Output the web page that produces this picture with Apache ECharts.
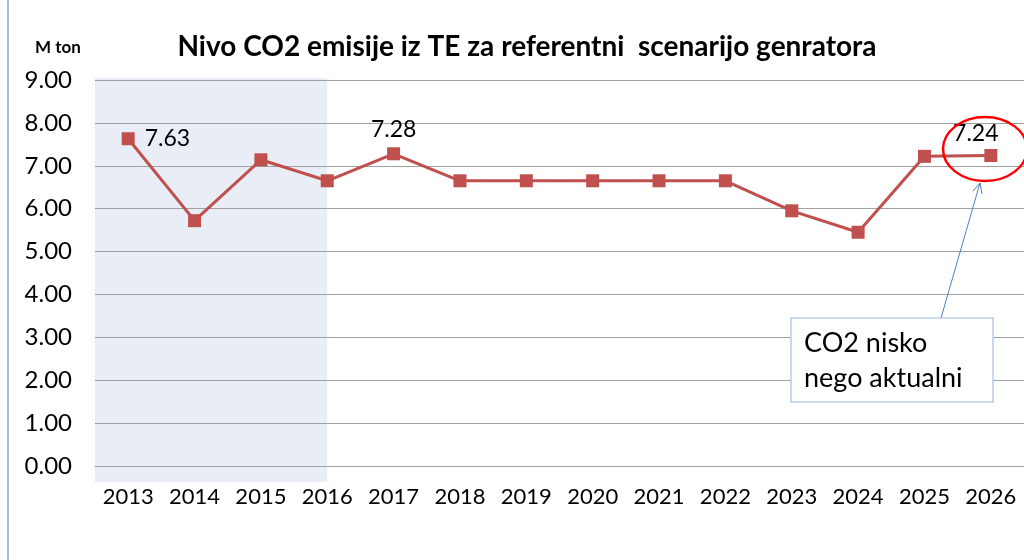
<!DOCTYPE html>
<html>
<head>
<meta charset="utf-8">
<script src="https://cdn.jsdelivr.net/npm/echarts@6/dist/echarts.min.js"></script>
<style>
html, body { margin: 0; padding: 0; background: #fff; }
#chart { width: 1024px; height: 560px; }
</style>
</head>
<body>
<div id="chart"></div>
<script>
const years = ['2013', '2014', '2015', '2016', '2017', '2018', '2019', '2020', '2021', '2022', '2023', '2024', '2025', '2026'];
const emissions = [7.63, 5.72, 7.14, 6.65, 7.28, 6.65, 6.65, 6.65, 6.65, 6.65, 5.95, 5.45, 7.22, 7.24];
const labelledYears = ['2013', '2017', '2026'];
const historyEnd = '2016';

const FONT = 'Lato, "Open Sans", sans-serif';

const seriesData = emissions.map((v, i) => {
    const item = { value: v };
    if (labelledYears.indexOf(years[i]) >= 0) {
        item.label = {
            show: true,
            position: i === 0 ? 'right' : 'top',
            distance: i === 0 ? 10 : 6,
            offset: i === emissions.length - 1 ? [-15, 2] : [0, 0],
            formatter: p => p.value.toFixed(2),
            fontFamily: FONT,
            fontSize: 23,
            color: '#000'
        };
    }
    return item;
});

const chart = echarts.init(document.getElementById('chart'));

chart.setOption({
    animation: false,
    grid: { left: 95, right: -5, top: 80, bottom: 94 },
    title: {
        text: 'Nivo CO2 emisije iz TE za referentni  scenarijo genratora',
        left: 522,
        top: 28,
        textAlign: 'center',
        textStyle: { fontFamily: FONT, fontSize: 28, fontWeight: 'bold', color: '#000' }
    },
    xAxis: {
        type: 'category',
        data: years,
        boundaryGap: true,
        axisTick: { show: false },
        axisLine: { lineStyle: { color: '#a0a0a0', width: 1 } },
        axisLabel: { interval: 0, hideOverlap: false, fontFamily: FONT, fontSize: 22, color: '#000', margin: 20 }
    },
    yAxis: {
        type: 'value',
        min: 0,
        max: 9,
        interval: 1,
        axisLine: { show: false },
        axisTick: { show: false },
        splitLine: { lineStyle: { color: '#a0a0a0', width: 1 } },
        axisLabel: {
            fontFamily: FONT, fontSize: 24, color: '#000', margin: 23,
            formatter: v => v.toFixed(2)
        }
    },
    series: [{
        type: 'line',
        data: seriesData,
        z: 5,
        symbol: 'rect',
        symbolSize: 13,
        itemStyle: { color: '#c0504d' },
        lineStyle: { color: '#c0504d', width: 3 }
    }]
});

// shaded history band and annotations
const firstX = chart.convertToPixel({ gridIndex: 0 }, [years[0], 0])[0];
const secondX = chart.convertToPixel({ gridIndex: 0 }, [years[1], 0])[0];
const bandX = firstX - (secondX - firstX) / 2;
const endX = chart.convertToPixel({ gridIndex: 0 }, [historyEnd, 0])[0];

chart.setOption({
    graphic: [
        {
            type: 'rect', z: -10, silent: true,
            shape: { x: bandX, y: 78, width: endX - bandX, height: 404 },
            style: { fill: '#e9eef6' }
        },
        {
            type: 'line', silent: true,
            shape: { x1: 8, y1: 0, x2: 8, y2: 560 },
            style: { stroke: '#a9c0e3', lineWidth: 2 }
        },
        {
            type: 'text', left: 35, top: 39,
            style: { text: 'M ton', font: 'bold 17px ' + FONT, fill: '#000' }
        },
        {
            type: 'ellipse', silent: true, z: 10,
            shape: { cx: 985, cy: 149, rx: 42, ry: 32 },
            style: { fill: 'none', stroke: '#ff0000', lineWidth: 2.5 }
        },
        {
            type: 'line', silent: true, z: 10,
            shape: { x1: 941, y1: 318, x2: 980, y2: 183 },
            style: { stroke: '#4f81bd', lineWidth: 1 }
        },
        {
            type: 'polyline', silent: true, z: 10,
            shape: { points: [[973, 191], [980, 183], [982, 194]] },
            style: { fill: 'none', stroke: '#4f81bd', lineWidth: 1 }
        },
        {
            type: 'rect', z: 10,
            shape: { x: 791, y: 318, width: 202, height: 84 },
            style: { fill: '#fff', stroke: '#b9cde5', lineWidth: 1.5 }
        },
        {
            type: 'text', z: 11, left: 804, top: 326,
            style: {
                text: 'CO2 nisko\nnego aktualni',
                font: '27px ' + FONT,
                lineHeight: 35,
                fill: '#000'
            }
        }
    ]
});
</script>
</body>
</html>
